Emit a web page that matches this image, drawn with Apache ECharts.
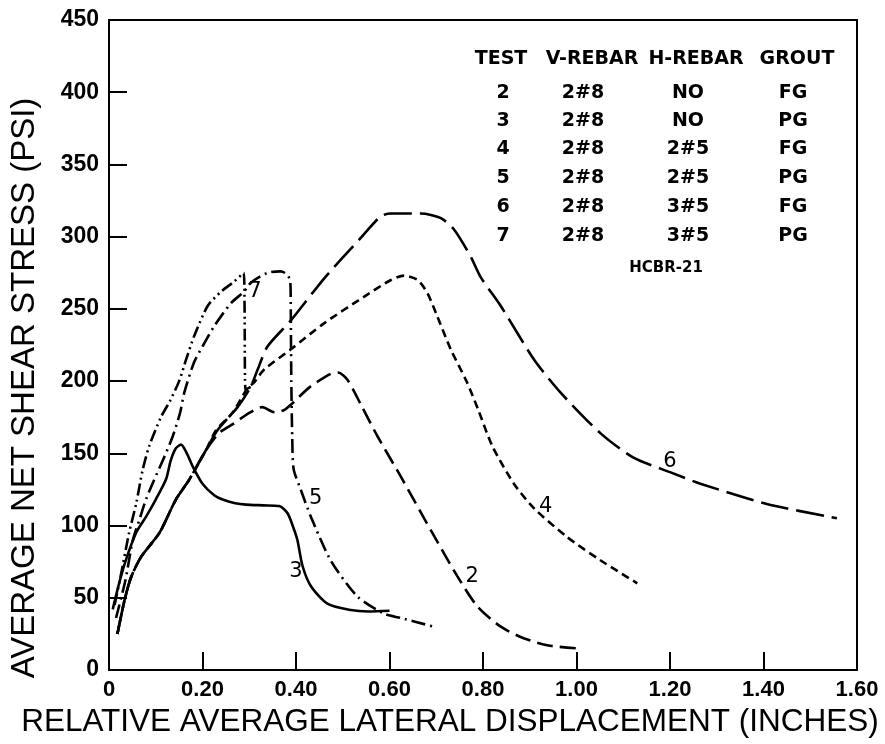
<!DOCTYPE html>
<html>
<head>
<meta charset="utf-8">
<script src="https://cdn.jsdelivr.net/npm/echarts@6/dist/echarts.min.js"></script>
<style>
  html, body { margin: 0; padding: 0; background: #fff; }
  #chart { width: 885px; height: 744px; }
</style>
</head>
<body>
<div id="chart"></div>
<script>
// tick labels
const yTicks = [0, 50, 100, 150, 200, 250, 300, 350, 400, 450];
const xTickLabels = ['0', '0.20', '0.40', '0.60', '0.80', '1.00', '1.20', '1.40', '1.60'];

// curves: [displacement (in), stress (psi)]
const test2 = [
  [0.018, 25], [0.033, 48], [0.047, 64], [0.068, 78], [0.108, 95], [0.143, 118],
  [0.172, 132], [0.207, 152], [0.235, 164], [0.264, 170], [0.3, 178], [0.328, 182],
  [0.353, 178.5], [0.375, 180], [0.39, 184], [0.43, 196], [0.474, 205], [0.49, 206],
  [0.51, 201], [0.54, 183], [0.574, 162], [0.624, 134], [0.688, 97], [0.745, 65],
  [0.788, 44], [0.838, 30], [0.887, 22], [0.94, 17], [1.0, 15]
];
const test3 = [
  [0.008, 42], [0.02, 58], [0.035, 75], [0.058, 95], [0.079, 106], [0.1, 118],
  [0.122, 132], [0.132, 145], [0.143, 153.5], [0.154, 156], [0.165, 151], [0.179, 141],
  [0.2, 129], [0.225, 121], [0.243, 118], [0.27, 115.5], [0.293, 114.5], [0.33, 114],
  [0.364, 113.5], [0.382, 108.5], [0.395, 98], [0.403, 90], [0.414, 72], [0.432, 58],
  [0.467, 46], [0.517, 41.5], [0.555, 40.5], [0.6, 41]
];
const test4 = [
  [0.018, 25], [0.033, 48], [0.047, 64], [0.068, 78], [0.108, 95], [0.143, 118],
  [0.172, 132], [0.207, 152], [0.229, 166], [0.264, 178], [0.296, 195], [0.31, 199],
  [0.332, 208], [0.389, 222], [0.46, 240], [0.546, 258.5], [0.603, 270], [0.631, 273],
  [0.66, 270], [0.681, 261], [0.702, 245], [0.731, 222], [0.766, 199], [0.79, 180],
  [0.82, 155], [0.866, 129], [0.909, 112], [0.98, 92], [1.051, 76], [1.13, 60]
];
const test5 = [
  [0.015, 36], [0.035, 62], [0.051, 90], [0.065, 104], [0.079, 118], [0.093, 129],
  [0.115, 145], [0.136, 161.5], [0.152, 178], [0.161, 192], [0.182, 213], [0.2, 224],
  [0.225, 238], [0.261, 254], [0.289, 262], [0.303, 268], [0.339, 275], [0.367, 276],
  [0.382, 273.5], [0.388, 268], [0.389, 240], [0.39, 200], [0.392, 160], [0.395, 139],
  [0.41, 125], [0.432, 106], [0.474, 76], [0.531, 51], [0.588, 39], [0.624, 36], [0.695, 30]
];
const test6 = [
  [0.018, 25], [0.033, 48], [0.047, 64], [0.068, 78], [0.108, 95], [0.143, 118],
  [0.172, 132], [0.207, 152], [0.232, 166], [0.275, 182], [0.303, 196], [0.318, 208],
  [0.339, 224], [0.389, 242], [0.46, 271], [0.538, 299], [0.581, 314], [0.603, 316],
  [0.667, 316], [0.709, 313], [0.738, 305], [0.774, 286], [0.795, 272], [0.838, 252],
  [0.909, 215], [0.966, 192], [1.051, 164], [1.122, 147], [1.2, 137], [1.265, 129],
  [1.407, 115], [1.557, 105]
];
const test7 = [
  [0.012, 45], [0.025, 65], [0.043, 95], [0.058, 115], [0.072, 138.5], [0.086, 155],
  [0.111, 175], [0.13, 186], [0.15, 200], [0.165, 215], [0.182, 231], [0.211, 252],
  [0.24, 262], [0.268, 269], [0.288, 275], [0.29, 250], [0.292, 194], [0.303, 196]
];

// curve number tags
const curveTags = ['2', '3', '4', '5', '6', '7'];
const curveTagAt = [[0.777, 65], [0.4, 68], [0.934, 113], [0.442, 119], [1.2, 144], [0.312, 262]];

// legend table
const tableHead = ['TEST', 'V-REBAR', 'H-REBAR', 'GROUT'];
const testIds = ['2', '3', '4', '5', '6', '7'];
const vRebar = ['2#8', '2#8', '2#8', '2#8', '2#8', '2#8'];
const hRebar = ['NO', 'NO', '2#5', '2#5', '3#5', '3#5'];
const grout = ['FG', 'PG', 'FG', 'PG', 'FG', 'PG'];
const tableNote = 'HCBR-21';

const chart = echarts.init(document.getElementById('chart'));

const font = '"DejaVu Sans", sans-serif';
const headX = [501, 592, 696, 797];
const colX = [503, 583, 688, 793];
const rowY = [93, 121, 149, 178, 207, 236];

const graphics = [];
tableHead.forEach((t, i) => {
  graphics.push({ type: 'text', x: headX[i], y: 59,
    style: { text: t, font: 'bold 19px ' + font, fill: '#000', align: 'center', verticalAlign: 'middle' } });
});
[testIds, vRebar, hRebar, grout].forEach((col, c) => {
  col.forEach((t, r) => {
    graphics.push({ type: 'text', x: colX[c], y: rowY[r],
      style: { text: t, font: 'bold 19px ' + font, fill: '#000', align: 'center', verticalAlign: 'middle' } });
  });
});
graphics.push({ type: 'text', x: 666, y: 268,
  style: { text: tableNote, font: 'bold 15px ' + font, fill: '#000', align: 'center', verticalAlign: 'middle' } });

function curve(name, data, dash) {
  return {
    name: name,
    type: 'line',
    data: data,
    showSymbol: false,
    smooth: 0.25,
    lineStyle: { color: '#000', width: 2.6, type: dash },
    z: 3
  };
}

const option = {
  animation: false,
  backgroundColor: '#fff',
  grid: { left: 108, right: 28, top: 20, bottom: 74, show: true, borderColor: '#000', borderWidth: 2 },
  xAxis: {
    type: 'value',
    min: 0,
    max: 1.6,
    interval: 0.2,
    name: 'RELATIVE AVERAGE LATERAL DISPLACEMENT (INCHES)',
    nameLocation: 'middle',
    nameGap: 35,
    nameTextStyle: { fontFamily: 'Liberation Sans', fontSize: 31.5, color: '#000', padding: [0, 66, 0, 0] },
    axisLine: { show: true, lineStyle: { color: '#000', width: 2 } },
    axisTick: { show: true, inside: true, length: 18, lineStyle: { color: '#000', width: 2 } },
    axisLabel: {
      color: '#000', fontFamily: 'Liberation Sans', fontWeight: 'bold', fontSize: 22, margin: 9,
      formatter: (v) => xTickLabels[Math.round(v / 0.2)]
    },
    splitLine: { show: false }
  },
  yAxis: {
    type: 'value',
    min: 0,
    max: 450,
    interval: 50,
    name: 'AVERAGE NET SHEAR STRESS (PSI)',
    nameLocation: 'middle',
    nameGap: 68,
    nameTextStyle: { fontFamily: 'Liberation Sans', fontSize: 33, color: '#000', padding: [0, 86, 0, 0] },
    axisLine: { show: true, lineStyle: { color: '#000', width: 2 } },
    axisTick: { show: true, inside: true, length: 18, lineStyle: { color: '#000', width: 2 } },
    axisLabel: {
      color: '#000', fontFamily: 'Liberation Sans', fontWeight: 'bold', fontSize: 23, margin: 10,
      formatter: (v) => (yTicks.indexOf(v) >= 0 ? String(v) : '')
    },
    splitLine: { show: false }
  },
  graphic: graphics,
  series: [
    curve('2', test2, [16, 7]),
    curve('3', test3, 'solid'),
    curve('4', test4, [8, 5]),
    curve('5', test5, [14, 5, 2, 5]),
    curve('6', test6, [28, 8]),
    curve('7', test7, [12, 4, 2, 4, 2, 4]),
    {
      type: 'scatter',
      symbolSize: 0,
      itemStyle: { opacity: 1 },
      data: curveTags.map((t, i) => ({ name: t, value: curveTagAt[i] })),
      label: { show: true, position: 'inside', formatter: '{b}', color: '#000',
        fontFamily: font, fontSize: 21 },
      z: 4
    }
  ]
};

chart.setOption(option);
window.addEventListener('resize', () => chart.resize());
</script>
</body>
</html>
